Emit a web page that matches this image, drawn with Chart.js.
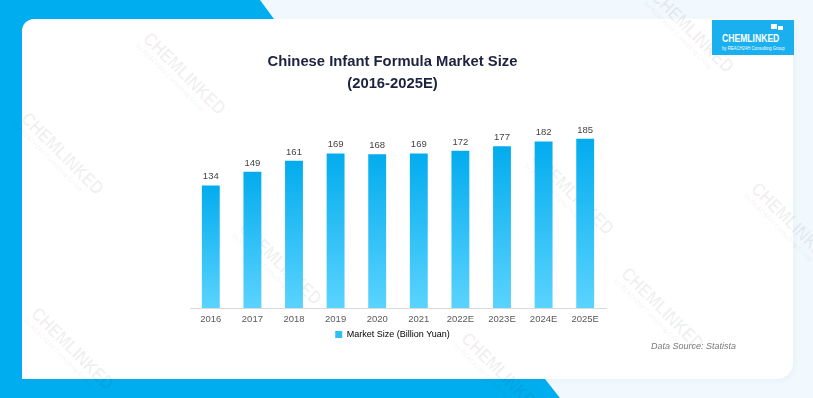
<!DOCTYPE html>
<html>
<head>
<meta charset="utf-8">
<script src="https://cdn.jsdelivr.net/npm/chart.js@4.4.1/dist/chart.umd.min.js"></script>
<style>
  html, body { margin: 0; padding: 0; }
  body { width: 813px; height: 398px; position: relative; overflow: hidden; background: #f2f9fe; font-family: "Liberation Sans", Arial, sans-serif; }
  .blue { position: absolute; left: 0; top: 0; width: 813px; height: 398px; background: #00aeef;
    clip-path: polygon(0 0, 260px 0, 274px 19px, 274px 379px, 545px 379px, 560px 398px, 0 398px); }
  .card { position: absolute; left: 22px; top: 19px; width: 771px; height: 360px; background: #fff;
    border-radius: 12px 0 16px 0; box-shadow: 2px 2px 6px rgba(0,120,200,0.05); }
  .logo { position: absolute; left: 712px; top: 20px; width: 82px; height: 35px; background: #1ab0ef; color: #fff; overflow: hidden; }
  .logo .name { position: absolute; left: 10px; top: 13px; font: bold 10px "Liberation Sans", Arial, sans-serif; transform: scaleX(0.86); transform-origin: left top; white-space: nowrap; }
  .logo .sub { position: absolute; left: 10px; top: 25px; font: 5px "Liberation Sans", Arial, sans-serif; transform: scaleX(0.85); transform-origin: left top; white-space: nowrap; }
  .logo .b1 { position: absolute; left: 59px; top: 4px; width: 6px; height: 5px; background: #fff; }
  .logo .b2 { position: absolute; left: 66px; top: 6px; width: 5px; height: 4px; background: #fff; }
  .wm { position: absolute; color: rgba(0,0,0,0.06); font: bold 19px "Liberation Sans", Arial, sans-serif;
    transform: rotate(45deg) scaleX(0.85); transform-origin: left top; white-space: nowrap; line-height: 16px; }
  .wm small { display: block; font: bold 7px "Liberation Sans", Arial, sans-serif; line-height: 9px; }
  canvas { position: absolute; left: 0; top: 0; }
  .src { position: absolute; left: 651px; top: 341px; font: italic 9px "Liberation Sans", Arial, sans-serif; color: #7a7a7a; }
</style>
</head>
<body>
<div class="blue"></div>
<div class="card"></div>
<div class="wm" style="left:152px;top:30px">CHEMLINKED<small>by REACH24H Consulting Group</small></div>
<div class="wm" style="left:30px;top:110px">CHEMLINKED<small>by REACH24H Consulting Group</small></div>
<div class="wm" style="left:248px;top:220px">CHEMLINKED<small>by REACH24H Consulting Group</small></div>
<div class="wm" style="left:40px;top:305px">CHEMLINKED<small>by REACH24H Consulting Group</small></div>
<div class="wm" style="left:660px;top:-12px">CHEMLINKED<small>by REACH24H Consulting Group</small></div>
<div class="wm" style="left:630px;top:265px">CHEMLINKED<small>by REACH24H Consulting Group</small></div>
<div class="wm" style="left:540px;top:150px">CHEMLINKED<small>by REACH24H Consulting Group</small></div>
<div class="wm" style="left:760px;top:180px">CHEMLINKED<small>by REACH24H Consulting Group</small></div>
<div class="wm" style="left:470px;top:330px">CHEMLINKED<small>by REACH24H Consulting Group</small></div>
<div class="logo"><div class="b1"></div><div class="b2"></div><div class="name">CHEMLINKED</div><div class="sub">by REACH24H Consulting Group</div></div>
<canvas id="grafico" width="813" height="398"></canvas>
<div class="src">Data Source: Statista</div>
<script>
// datos
const years = ['2016', '2017', '2018', '2019', '2020', '2021', '2022E', '2023E', '2024E', '2025E'];
const marketSize = [134, 149, 161, 169, 168, 169, 172, 177, 182, 185];
const seriesName = 'Market Size (Billion Yuan)';
const titleLines = ['Chinese Infant Formula Market Size', '(2016-2025E)'];

// degradado de cada barra (oscuro arriba, claro abajo)
function barGradient(context) {
    const chart = context.chart;
    if (!chart.chartArea || context.raw === undefined) return '#2dbff5';
    const y = chart.scales.y;
    const top = y.getPixelForValue(context.raw);
    const bottom = y.getPixelForValue(0);
    const g = chart.ctx.createLinearGradient(0, top, 0, bottom);
    g.addColorStop(0, '#03acee');
    g.addColorStop(1, '#5ad3fe');
    return g;
}

// etiquetas de valor encima de las barras
const valueLabels = {
    id: 'valueLabels',
    afterDatasetsDraw(chart) {
        const ctx = chart.ctx;
        const meta = chart.getDatasetMeta(0);
        ctx.save();
        ctx.font = '9.5px "Liberation Sans", Arial, sans-serif';
        ctx.fillStyle = '#444444';
        ctx.textAlign = 'center';
        ctx.textBaseline = 'bottom';
        meta.data.forEach((bar, i) => {
            ctx.fillText(marketSize[i], bar.x, bar.y - 4);
        });
        ctx.restore();
    }
};

const ctx = document.getElementById('grafico').getContext('2d');
const miGrafico = new Chart(ctx, {
    type: 'bar',
    data: {
        labels: years,
        datasets: [{
            label: seriesName,
            data: marketSize,
            backgroundColor: barGradient,
            barPercentage: 0.43,
            categoryPercentage: 1
        }]
    },
    options: {
        responsive: false,
        animation: false,
        layout: { padding: { left: 179, right: 207, top: 51, bottom: 49 } },
        plugins: {
            title: {
                display: true,
                text: titleLines,
                color: '#1d2240',
                font: { family: '"Liberation Sans", Arial, sans-serif', size: 14.8, weight: 'bold', lineHeight: 1.49 },
                padding: { top: 0, bottom: 30 }
            },
            legend: {
                position: 'bottom',
                labels: {
                    boxWidth: 7,
                    boxHeight: 7,
                    padding: 0,
                    color: '#555555',
                    font: { family: '"Liberation Sans", Arial, sans-serif', size: 9 },
                    generateLabels: (chart) => [{
                        text: seriesName,
                        fillStyle: '#2dbff5',
                        strokeStyle: '#2dbff5',
                        lineWidth: 0,
                        datasetIndex: 0
                    }]
                }
            },
            tooltip: { enabled: false }
        },
        scales: {
            x: {
                grid: { display: false, drawTicks: false },
                border: { display: true, color: '#d9d9d9', width: 1 },
                ticks: { color: '#595959', padding: 5.3, font: { family: '"Liberation Sans", Arial, sans-serif', size: 9.5 } }
            },
            y: {
                min: 0,
                max: 200,
                grid: { display: false, drawTicks: false },
                border: { display: false },
                ticks: { display: false },
                afterFit: (scale) => { scale.width = 11; }
            }
        }
    },
    plugins: [valueLabels]
});
</script>
</body>
</html>
